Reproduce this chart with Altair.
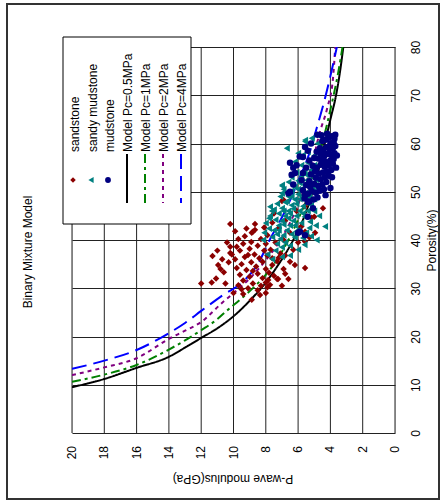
import altair as alt
import pandas as pd

FONT = "Liberation Sans"

# ---- model curves: (P-wave modulus GPa, porosity %) ----
m05_M = [20, 18, 16, 14, 13, 12, 11, 10, 9, 8, 7.2, 6.3, 5.6, 5.1, 4.7, 4.3, 4.0, 3.65, 3.4, 3.2]
m05_phi = [9.5, 11.2, 13.5, 15.8, 17.7, 19.7, 21.7, 24.2, 27.4, 31.2, 35.0, 40.0, 45.0, 50.0, 55.0, 60.7, 65.0, 70.0, 75.0, 80.0]
m1_M = [20, 18, 16, 14, 13, 12, 11, 10.5, 9.4, 8.5, 7.6, 6.6, 5.9, 5.3, 4.9, 4.5, 4.0, 3.8, 3.5, 3.25]
m1_phi = [10.6, 12.1, 14.1, 17.3, 19.2, 21.3, 23.6, 25.1, 28.2, 31.0, 34.5, 40.0, 45.0, 50.0, 55.0, 60.0, 67.0, 70.0, 75.0, 80.0]
m2_M = [20, 18, 16, 14, 13, 12, 10.7, 10, 9.0, 8.2, 7.1, 6.3, 5.7, 5.2, 4.65, 4.2, 3.84, 3.7]
m2_phi = [12.0, 13.6, 15.5, 19.5, 21.2, 23.0, 27.0, 29.0, 32.0, 35.0, 40.0, 45.0, 50.0, 55.0, 62.4, 67.3, 73.5, 80.0]
m4_M = [20, 18, 16, 14, 13, 12, 10.65, 9.5, 8.5, 7.7, 6.8, 5.9, 5.3, 4.83, 4.4, 4.0, 3.6]
m4_phi = [13.3, 15.0, 17.2, 20.7, 22.8, 25.3, 28.6, 31.1, 35.0, 40.4, 46.0, 53.0, 58.0, 63.4, 68.5, 74.0, 80.0]

models = ["Model Pc=0.5MPa", "Model Pc=1MPa", "Model Pc=2MPa", "Model Pc=4MPa"]
model_colors = ["#000000", "#008000", "#800080", "#0000FF"]
model_dashes = [[1, 0], [9, 4, 3, 4], [4, 4], [15, 7]]

# axis ticks
modulus_ticks = [0, 2, 4, 6, 8, 10, 12, 14, 16, 18, 20]
porosity_ticks = [0, 10, 20, 30, 40, 50, 60, 70, 80]

# ---- measured samples: (P-wave modulus GPa, porosity %) ----
sandstone = [
    (12.0, 31.0), (11.35, 31.2), (11.08, 32.0), (11.3, 36.7), (10.95, 34.8), (10.2, 43.3), (10.2, 38.6),
    (10.1, 37.0), (10.2, 37.3), (10.5, 31.0), (10.0, 29.0), (10.6, 33.3), (10.3, 35.4), (9.9, 36.0),
    (9.8, 34.2), (9.6, 37.8), (9.4, 39.2), (9.3, 36.5), (9.2, 33.8), (9.5, 35.0), (9.0, 38.2), (8.9, 39.6),
    (8.9, 35.4), (8.7, 37.0), (8.6, 34.5), (8.5, 38.8), (8.5, 33.0), (8.4, 36.2), (8.2, 35.5), (8.2, 32.1),
    (8.0, 34.0), (7.9, 36.8), (7.8, 33.2), (7.6, 34.8), (7.7, 38.0), (8.1, 37.8), (9.0, 32.4), (9.4, 31.6),
    (8.8, 31.0), (9.7, 30.6), (9.1, 30.0), (8.5, 29.6), (7.9, 30.2), (7.5, 32.6), (7.3, 35.6), (7.4, 39.5),
    (8.3, 40.2), (7.9, 41.0), (7.1, 37.2), (6.9, 34.0), (6.6, 31.9), (7.3, 31.9), (7.74, 30.7), (7.24, 31.9),
    (7.85, 31.7), (8.36, 28.6), (8.87, 27.6), (6.2, 34.8), (5.57, 34.2), (8.67, 43.3), (8.87, 41.5),
    (8.67, 42.1), (8.8, 41.7), (9.3, 40.8), (9.7, 40.2), (9.9, 41.8), (9.2, 42.4), (8.1, 42.6), (7.6, 43.6),
    (7.2, 42.5), (6.8, 44.0), (6.5, 41.5), (6.9, 40.0), (6.3, 38.0), (6.0, 39.5), (5.8, 42.8), (5.3, 40.5),
    (5.57, 41.7), (4.95, 41.5), (5.57, 39.7), (5.16, 44.6), (4.46, 46.6), (5.0, 44.8), (6.9, 48.3),
    (7.0, 48.1), (6.1, 46.0), (5.6, 47.0), (7.5, 45.5), (8.0, 39.2), (7.2, 36.3), (6.8, 36.8), (6.5, 35.5),
    (6.8, 33.0), (7.0, 30.5), (8.0, 29.0), (9.4, 28.8), (10.4, 39.5), (10.7, 36.0), (9.6, 32.8), (8.3, 30.5),
    (9.1, 36.9), (8.8, 33.6), (8.0, 31.2), (7.6, 36.2), (9.8, 38.6), (10.8, 34.0), (11.0, 37.8), (9.5, 29.8),
]
sandy_mudstone = [
    (6.7, 59.0), (5.57, 60.4), (5.16, 61.1), (5.57, 60.7), (5.7, 57.6), (7.0, 51.4), (7.0, 49.7), (7.0, 51.2),
    (7.74, 46.9), (7.63, 46.0), (7.74, 45.0), (8.17, 40.0), (4.33, 42.8), (4.85, 40.0), (5.26, 43.8),
    (5.7, 40.4), (5.46, 52.4), (7.4, 44.2), (7.2, 45.5), (7.0, 46.6), (6.8, 47.8), (6.6, 49.0), (6.4, 50.2),
    (6.2, 51.0), (6.0, 52.3), (5.8, 53.0), (5.6, 54.0), (7.5, 42.0), (7.2, 43.0), (7.0, 44.0), (6.8, 45.0),
    (6.6, 46.0), (6.4, 47.2), (6.2, 48.4), (6.0, 49.5), (5.8, 50.5), (5.6, 51.5), (5.4, 50.0), (5.5, 48.5),
    (5.7, 47.0), (5.9, 46.0), (6.1, 45.0), (6.3, 44.0), (6.5, 43.0), (6.7, 42.0), (6.9, 41.0), (7.1, 40.2),
    (7.3, 39.2), (6.0, 42.0), (5.8, 43.5), (5.6, 44.8), (5.4, 46.0), (5.2, 47.2), (5.0, 48.5), (5.3, 42.5),
    (5.5, 41.5), (6.2, 40.5), (6.4, 41.2), (6.6, 44.5), (6.9, 43.2), (7.3, 41.2), (7.6, 40.6), (7.8, 42.4),
    (6.3, 46.5), (6.1, 47.5), (5.9, 48.5), (6.7, 48.0), (6.5, 45.5), (6.8, 39.5), (7.0, 38.5), (7.4, 37.8),
    (6.5, 38.8), (6.0, 38.0), (5.6, 39.0), (5.2, 40.8), (4.9, 43.0), (4.7, 45.0), (5.0, 46.0), (6.2, 43.0),
    (5.7, 45.5), (6.4, 49.0), (6.0, 50.5), (5.7, 49.3), (5.9, 51.8), (5.3, 52.5), (5.5, 53.5), (5.2, 54.5),
    (5.0, 55.5), (5.4, 56.0), (5.8, 55.5), (6.1, 54.0), (6.4, 53.0), (6.6, 52.0), (6.9, 50.5), (7.1, 49.0),
    (7.3, 47.5), (7.5, 46.3), (7.8, 44.5), (8.0, 43.5), (8.1, 41.5), (4.8, 50.5), (5.1, 51.0), (4.9, 52.5),
    (5.3, 49.0), (7.9, 37.0), (7.6, 36.0), (7.0, 36.5), (6.5, 36.8), (7.2, 42.0), (6.9, 46.0), (6.1, 41.8),
    (5.0, 57.5), (4.6, 58.5), (5.4, 58.3), (6.2, 56.2), (6.0, 58.0), (4.8, 60.0),
]
mudstone = [
    (3.75, 61.0), (3.9, 61.5), (4.1, 61.2), (4.3, 60.8), (3.8, 60.2), (4.0, 60.0), (4.5, 60.5), (3.7, 59.5),
    (3.85, 59.0), (4.05, 58.8), (4.25, 59.2), (4.45, 58.5), (4.65, 59.0), (3.75, 58.0), (3.95, 57.6),
    (4.2, 57.8), (4.4, 57.3), (4.6, 57.9), (4.85, 58.3), (3.8, 56.8), (4.0, 56.5), (4.3, 56.2), (4.55, 56.6),
    (4.75, 56.9), (5.0, 57.0), (3.85, 55.8), (4.1, 55.5), (4.35, 55.2), (4.6, 55.6), (4.85, 55.0),
    (5.1, 55.4), (3.95, 54.5), (4.2, 54.2), (4.45, 54.0), (4.7, 53.8), (4.95, 54.2), (5.2, 53.6), (4.1, 53.3),
    (4.35, 53.0), (4.6, 52.6), (4.9, 52.9), (5.3, 52.2), (4.25, 52.0), (4.5, 51.5), (4.75, 51.2), (5.0, 51.6),
    (5.25, 51.0), (5.5, 51.4), (4.4, 50.5), (4.65, 50.2), (4.9, 49.8), (5.15, 50.1), (5.4, 49.6), (5.7, 50.3),
    (4.8, 48.8), (5.05, 48.4), (5.3, 48.0), (5.6, 48.6), (5.57, 59.3), (5.9, 57.3), (5.7, 57.2), (6.09, 55.5),
    (6.19, 53.9), (5.7, 53.9), (6.5, 50.0), (6.4, 53.5), (6.5, 56.0), (6.3, 55.0), (5.78, 52.4), (5.88, 41.7),
    (6.0, 41.5), (5.57, 41.0), (5.08, 46.6), (5.39, 47.9), (5.57, 49.3), (6.6, 49.7), (6.3, 51.5), (5.4, 44.8),
    (5.3, 56.5), (5.5, 55.0), (5.4, 58.5), (5.2, 60.0), (4.8, 61.8), (4.2, 62.0), (3.6, 57.5), (3.65, 55.0),
    (3.9, 53.0), (4.0, 50.8), (4.3, 49.3), (3.7, 61.8), (4.55, 61.7),
]

curve_rows = []
for name, Ms, phis in zip(models, [m05_M, m1_M, m2_M, m4_M], [m05_phi, m1_phi, m2_phi, m4_phi]):
    for m, p in zip(Ms, phis):
        curve_rows.append({"model": name, "M": m, "phi": p})
curves_df = pd.DataFrame(curve_rows)

def pts(lst):
    return pd.DataFrame({"M": [a for a, b in lst], "phi": [b for a, b in lst]})

xs = alt.Scale(domain=[0, 20], reverse=True, nice=False, zero=False)
ys = alt.Scale(domain=[0, 80], nice=False, zero=False)

y_axis = alt.Axis(orient="right", values=porosity_ticks, grid=True, gridColor="#222222", gridWidth=1,
                  ticks=False, domain=False, labelAngle=270, labelAlign="center", labelBaseline="top",
                  labelPadding=15, labelFontSize=12, labelFont=FONT, labelColor="black", labelFlush=False,
                  labelOverlap=False, title="Porosity(%)", titleAngle=270, titleFontSize=12, titleFont=FONT,
                  titleFontWeight="normal", titleColor="black", titleX=36, titleY=193,
                  titleAlign="center", titleBaseline="middle")

tick_df = pd.DataFrame({"M": modulus_ticks, "label": [str(v) for v in modulus_ticks]})

# vertical grid lines (modulus) through the x scale
vgrid = alt.Chart(tick_df).mark_rule(color="#222222", strokeWidth=1).encode(
    x=alt.X("M:Q", scale=xs, axis=None))
vlabels = alt.Chart(tick_df).mark_text(angle=270, align="right", baseline="middle", fontSize=12,
                                       font=FONT, color="black").encode(
    x=alt.X("M:Q", scale=xs, axis=None), y=alt.value(399), text="label:N")

curves = alt.Chart(curves_df).mark_line(strokeWidth=2, clip=True, interpolate="monotone").encode(
    x=alt.X("M:Q", scale=xs, axis=None),
    y=alt.Y("phi:Q", scale=ys, axis=y_axis),
    color=alt.Color("model:N", scale=alt.Scale(domain=models, range=model_colors), legend=None),
    strokeDash=alt.StrokeDash("model:N", scale=alt.Scale(domain=models, range=model_dashes), legend=None),
    order=alt.Order("phi:Q"),
)

def scatter(df, shape, color, size):
    return alt.Chart(df).mark_point(shape=shape, filled=True, size=size, color=color, opacity=1).encode(
        x=alt.X("M:Q", scale=xs, axis=None), y=alt.Y("phi:Q", scale=ys, axis=y_axis))

s1 = scatter(pts(sandstone), "diamond", "#8B0000", 42)
s2 = scatter(pts(sandy_mudstone), "triangle-left", "#008080", 48)
s3 = scatter(pts(mudstone), "circle", "#000080", 42)

one = pd.DataFrame({"k": [0]})

xtitle = alt.Chart(one).mark_text(angle=180, align="center", baseline="middle", fontSize=12, font=FONT,
                                  color="black").encode(x=alt.value(161), y=alt.value(432),
                                                        text=alt.value("P-wave modulus(GPa)"))

frame = alt.Chart(one).mark_rect(fillOpacity=0, stroke="#333333", strokeWidth=2).encode(
    x=alt.value(-65), x2=alt.value(367), y=alt.value(-43), y2=alt.value(452))

title = alt.Chart(one).mark_text(angle=270, align="center", baseline="middle", fontSize=12, font=FONT,
                                 color="black").encode(x=alt.value(-44), y=alt.value(205),
                                                       text=alt.value("Binary Mixture Model"))

legend_box = alt.Chart(one).mark_rect(fill="white", stroke="black", strokeWidth=1).encode(
    x=alt.value(-9), x2=alt.value(119), y=alt.value(-10), y2=alt.value(177))

leg_layers = []
sample_labels = ["sandstone", "sandy mudstone", "mudstone"]
sample_shapes = ["diamond", "triangle-left", "circle"]
sample_colors = ["#8B0000", "#008080", "#000080"]
sample_sizes = [30, 36, 34]
sample_x = [2, 20, 37]
for lab, shp, col, sz, xx in zip(sample_labels, sample_shapes, sample_colors, sample_sizes, sample_x):
    leg_layers.append(alt.Chart(one).mark_point(shape=shp, filled=True, size=sz, color=col, opacity=1).encode(
        x=alt.value(xx - 1), y=alt.value(133)))
    leg_layers.append(alt.Chart(one).mark_text(angle=270, align="left", baseline="middle", fontSize=12,
                                               font=FONT, color="black").encode(
        x=alt.value(xx + 1), y=alt.value(105), text=alt.value(lab)))
model_x = [56, 74, 92, 110]
for lab, col, dash, xx in zip(models, model_colors, model_dashes, model_x):
    leg_layers.append(alt.Chart(one).mark_rule(color=col, strokeWidth=2, strokeDash=dash).encode(
        x=alt.value(xx - 1), y=alt.value(107), y2=alt.value(156)))
    leg_layers.append(alt.Chart(one).mark_text(angle=270, align="left", baseline="middle", fontSize=12,
                                               font=FONT, color="black").encode(
        x=alt.value(xx), y=alt.value(105), text=alt.value(lab)))

chart = alt.layer(vgrid, curves, s1, s2, s3, vlabels, xtitle, frame, title, legend_box, *leg_layers).properties(
    width=323, height=386,
    autosize=alt.AutoSizeParams(type="none"),
    padding={"left": 72, "top": 47, "right": 45, "bottom": 69},
).configure_view(stroke="black", strokeWidth=1).configure(background="white", font=FONT)

chart.save("out.html", embed_options={"renderer": "svg", "actions": False})
